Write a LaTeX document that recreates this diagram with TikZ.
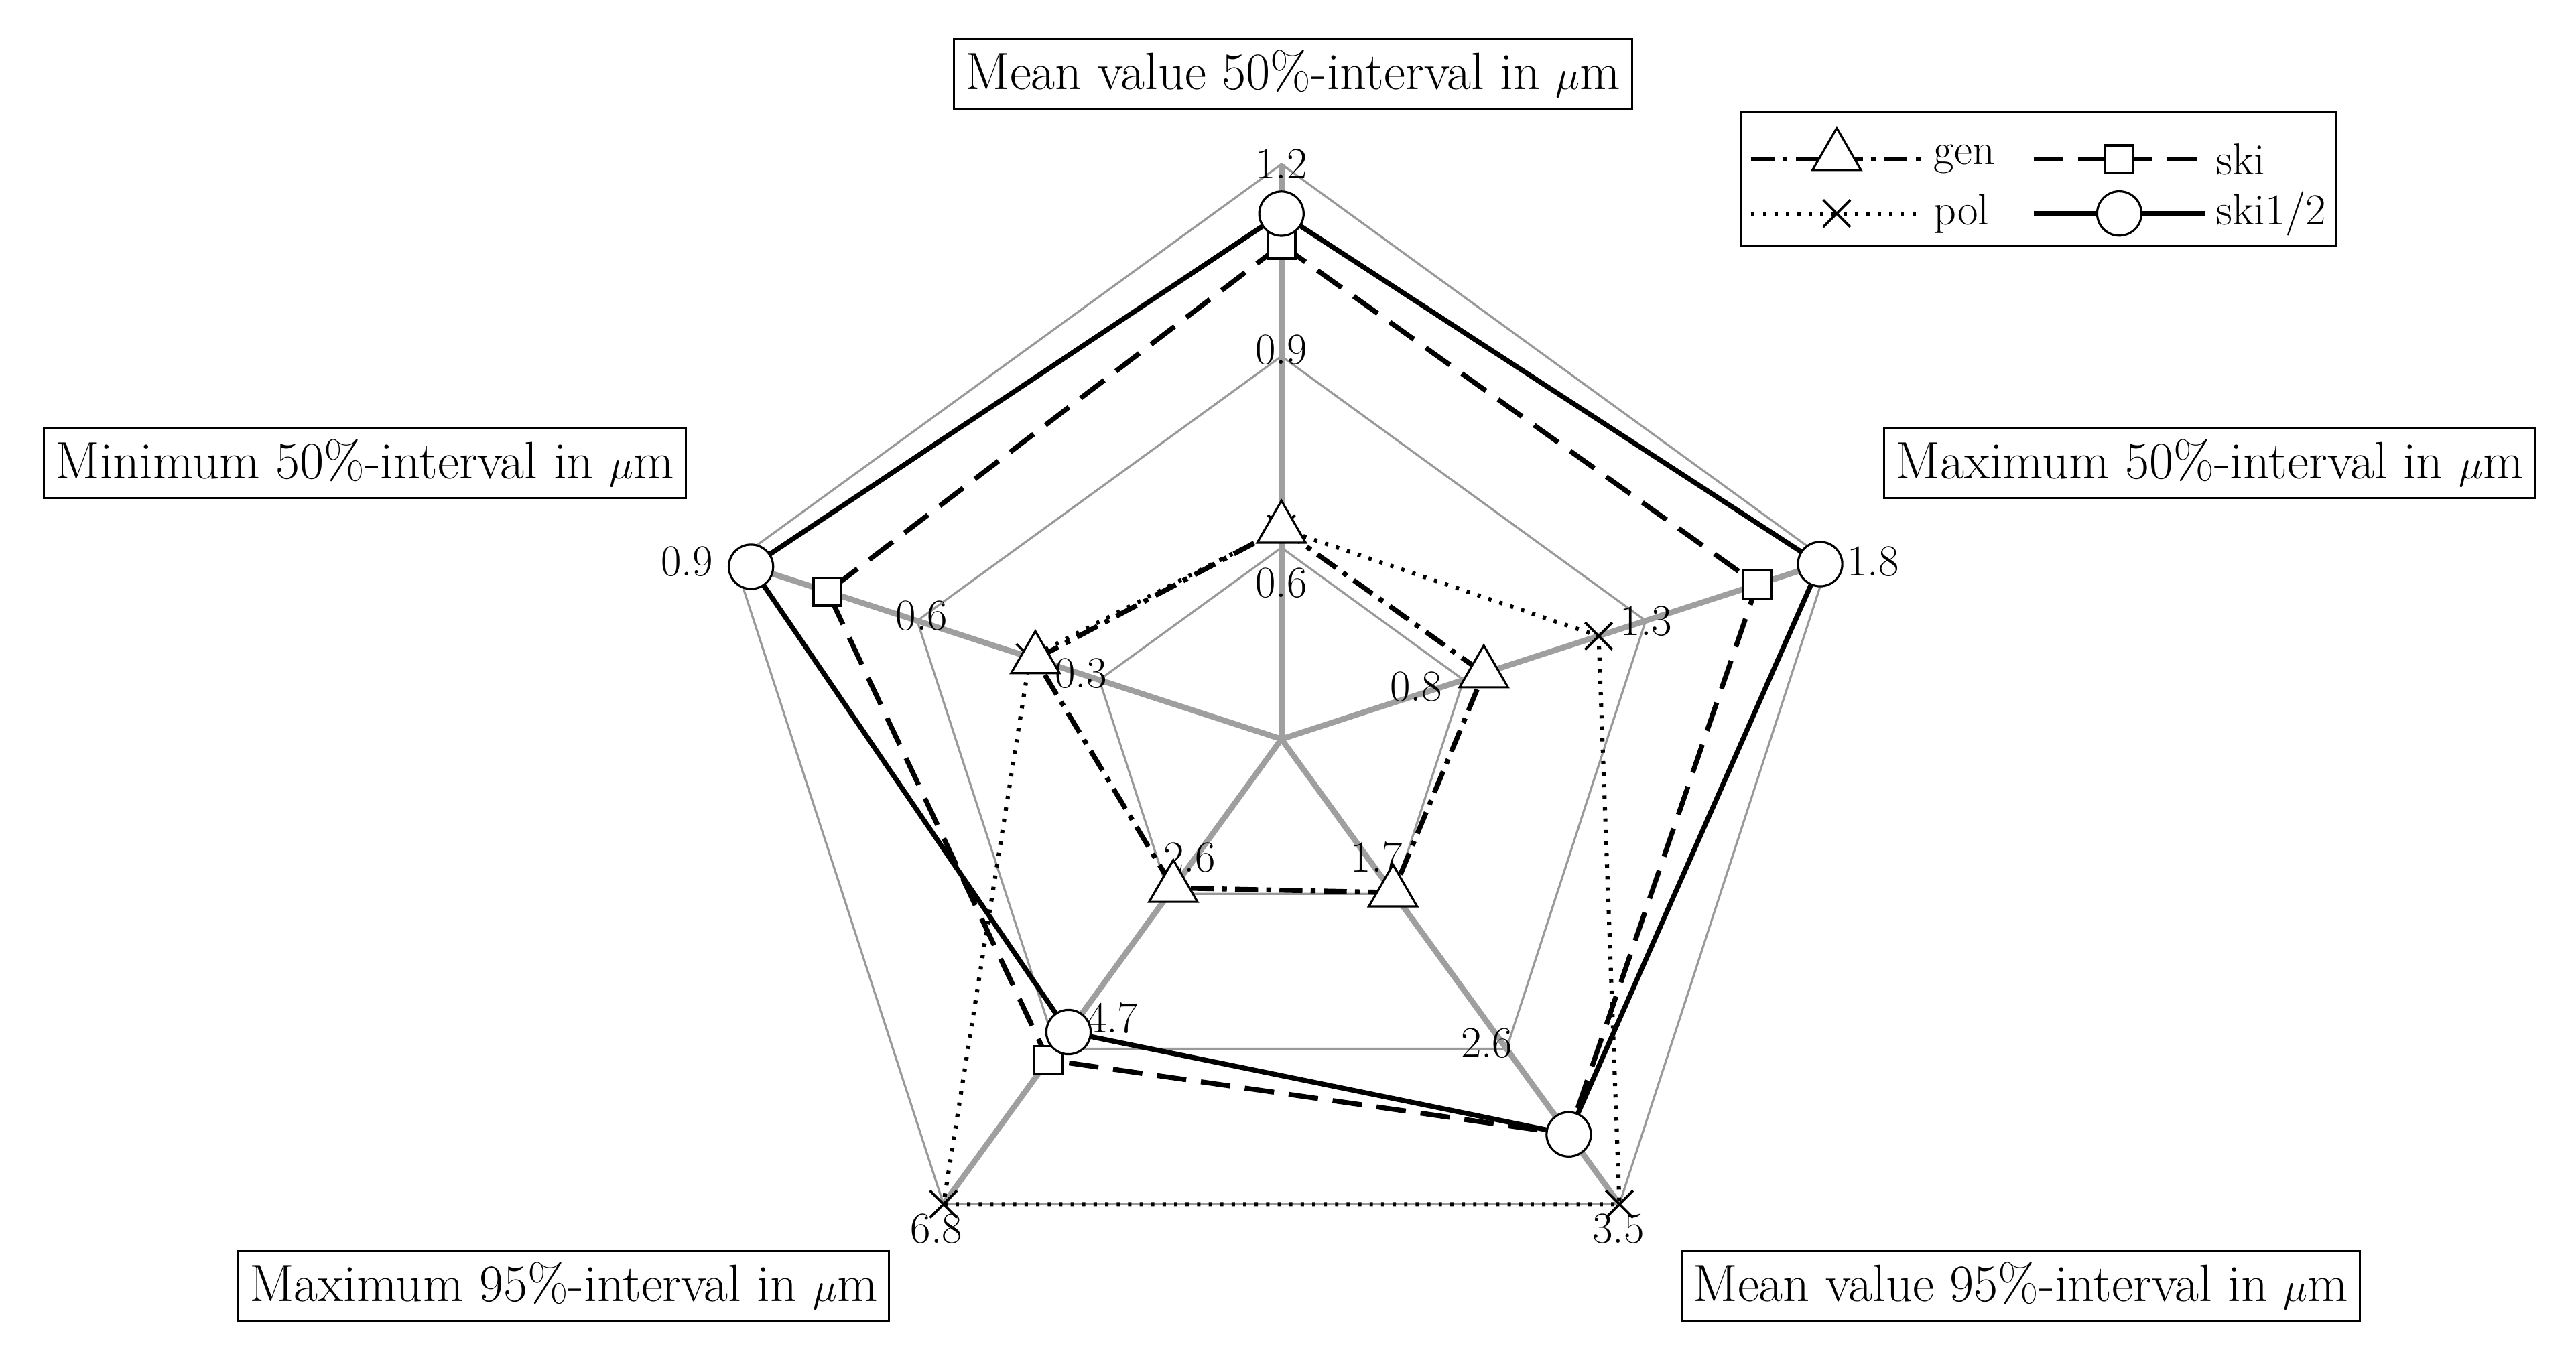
\documentclass[tikz,border=0pt]{standalone}
\usetikzlibrary{shapes.geometric,shapes.misc}
\begin{document}
\begin{tikzpicture}[x=1pt,y=1pt,
  lab/.style={draw,line width=1.2pt,fill=white,inner xsep=7pt,inner ysep=7pt,font=\fontsize{32}{36}\selectfont},
  tick/.style={font=\fontsize{27}{31}\selectfont,inner sep=1pt},
  ring/.style={gray!80,line width=1.3pt},
  axis/.style={gray!75,line width=3.5pt},
  sgen/.style={black,line width=3pt,dash pattern=on 14pt off 5pt on 3pt off 5pt},
  sski/.style={black,line width=3pt,dash pattern=on 18pt off 9pt},
  spol/.style={black,line width=2.5pt,dash pattern=on 2pt off 5pt},
  sski2/.style={black,line width=3pt},
  mtri/.style={draw,fill=white,regular polygon,regular polygon sides=3,minimum size=34pt,inner sep=0,line width=1.3pt,solid},
  msq/.style={draw,fill=white,rectangle,minimum size=17pt,inner sep=0,line width=1.3pt,solid},
  mcir/.style={draw,fill=white,circle,minimum size=27pt,inner sep=0,line width=1.3pt,solid},
  mx/.style={cross out,draw,minimum size=15pt,inner sep=0,line width=1.5pt,solid}]
\useasboundingbox (0,0) rectangle (1568,829);
\begin{scope}[shift={(780,379)}]
\def\R{350}
\coordinate (O) at (0,0);
\foreach \f in {0.333,0.666,1}{
 \draw[ring] (90:\R*\f)--(18:\R*\f)--(-54:\R*\f)--(-126:\R*\f)--(162:\R*\f)--cycle;}
\foreach \a in {90,18,-54,-126,162}{\draw[axis] (O)--(\a:\R);}
% tick labels
\node[tick] (t1) at (780-780,829-100-379) {1.2};
\node[tick] (t2) at (0,829-213-379) {0.9};
\node[tick] (t3) at (0,829-355-379) {0.6};
\node[tick] (r1) at (1140-780,829-342-379) {1.8};
\node[tick] (r2) at (1002-780,829-378-379) {1.3};
\node[tick] (r3) at (862-780,829-418-379) {0.8};
\node[tick] (b1) at (985-780,829-748-379) {3.5};
\node[tick] (b2) at (905-780,829-635-379) {2.6};
\node[tick] (b3) at (838-780,829-522-379) {1.7};
\node[tick] (c1) at (570-780,829-748-379) {6.8};
\node[tick] (c2) at (677-780,829-620-379) {4.7};
\node[tick] (c3) at (724-780,829-522-379) {2.6};
\node[tick] (d1) at (418-780,829-342-379) {0.9};
\node[tick] (d2) at (561-780,829-375-379) {0.6};
\node[tick] (d3) at (658-780,829-410-379) {0.3};
% data
\def\poly#1#2#3#4#5#6{\draw[#6] (90:\R*#1)--(18:\R*#2)--(-54:\R*#3)--(-126:\R*#4)--(162:\R*#5)--cycle;}
\poly{0.366}{0.58}{1.0}{1.0}{0.46}{spol}
\poly{0.366}{0.37}{0.33}{0.32}{0.45}{sgen}
\poly{0.86}{0.87}{0.85}{0.69}{0.83}{sski}
\poly{0.914}{0.985}{0.85}{0.63}{0.97}{sski2}
\foreach \a/\f [count=\i] in {90/0.366,18/0.58,-54/1.0,-126/1.0,162/0.46}{\node[mx] (px\i) at (\a:\R*\f) {};}
\foreach \a/\f [count=\i] in {90/0.366,18/0.37,-54/0.33,-126/0.32,162/0.45}{\node[mtri] (g\i) at (\a:\R*\f) {};}
\foreach \a/\f [count=\i] in {90/0.86,18/0.87,-54/0.85,-126/0.69,162/0.83}{\node[msq] (s\i) at (\a:\R*\f) {};}
\foreach \a/\f [count=\i] in {90/0.914,18/0.985,-54/0.85,-126/0.63,162/0.97}{\node[mcir] (k\i) at (\a:\R*\f) {};}
\end{scope}
% axis labels
\node[lab] (L1) at (787,829-45) {Mean value 50\%-interval in $\mu$m};
\node[lab] (L2) at (1345,829-282) {Maximum 50\%-interval in $\mu$m};
\node[lab] (L3) at (1230,829-783) {Mean value 95\%-interval in $\mu$m};
\node[lab] (L4) at (343,829-783) {Maximum 95\%-interval in $\mu$m};
\node[lab] (L5) at (222,829-282) {Minimum 50\%-interval in $\mu$m};
% legend
\draw[line width=1.2pt] (1060,829-68) rectangle (1422,829-150);
\coordinate (a1) at (1066,829-97); \coordinate (a2) at (1170,829-97);
\coordinate (a3) at (1238,829-97); \coordinate (a4) at (1342,829-97);
\coordinate (a5) at (1066,829-130); \coordinate (a6) at (1170,829-130);
\coordinate (a7) at (1238,829-130); \coordinate (a8) at (1342,829-130);
\draw[sgen] (a1)--(a2); \node[mtri] (lg) at (1118,829-95) {};
\draw[sski] (a3)--(a4); \node[msq] (ls) at (1290,829-97) {};
\draw[spol] (a5)--(a6); \node[mx] (lp) at (1118,829-130) {};
\draw[sski2] (a7)--(a8); \node[mcir] (lk) at (1290,829-130) {};
\node[tick,anchor=west] (tg) at (1176,829-97) {gen};
\node[tick,anchor=west] (ts) at (1348,829-97) {ski};
\node[tick,anchor=west] (tp) at (1176,829-130) {pol};
\node[tick,anchor=west] (tk) at (1348,829-130) {ski1/2};
\end{tikzpicture}
\end{document}
